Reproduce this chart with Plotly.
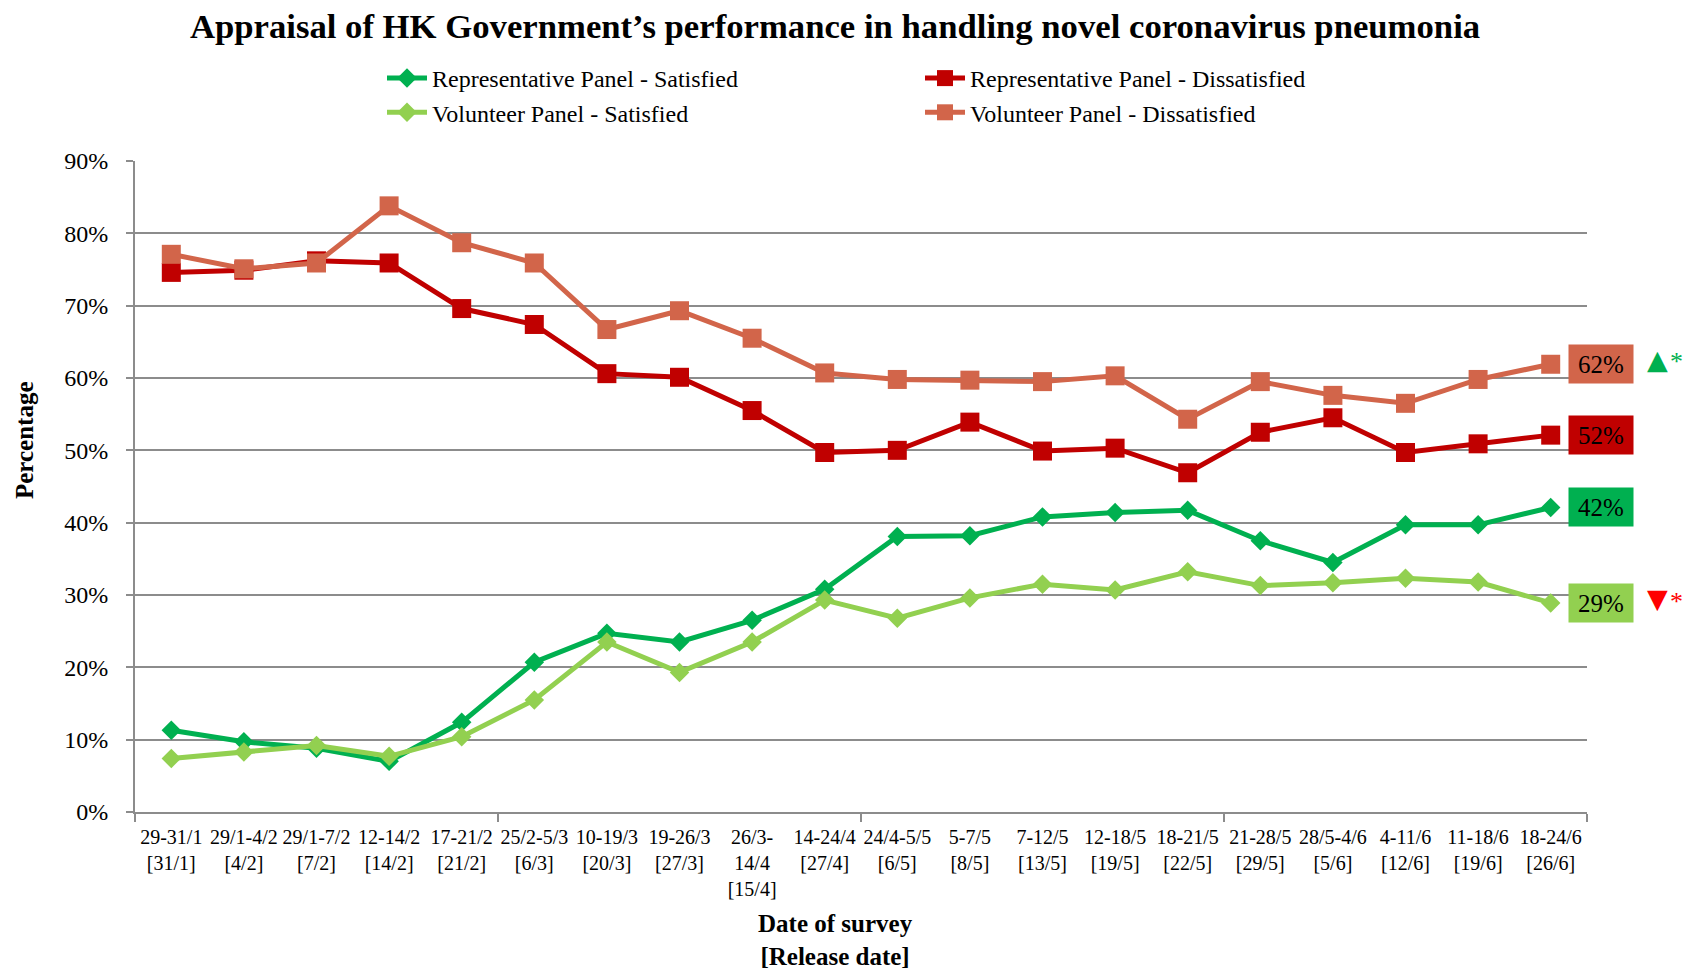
import plotly.graph_objects as go

categories = ["29-31/1<br>[31/1]", "29/1-4/2<br>[4/2]", "29/1-7/2<br>[7/2]", "12-14/2<br>[14/2]",
              "17-21/2<br>[21/2]", "25/2-5/3<br>[6/3]", "10-19/3<br>[20/3]", "19-26/3<br>[27/3]",
              "26/3-<br>14/4<br>[15/4]", "14-24/4<br>[27/4]", "24/4-5/5<br>[6/5]", "5-7/5<br>[8/5]",
              "7-12/5<br>[13/5]", "12-18/5<br>[19/5]", "18-21/5<br>[22/5]", "21-28/5<br>[29/5]",
              "28/5-4/6<br>[5/6]", "4-11/6<br>[12/6]", "11-18/6<br>[19/6]", "18-24/6<br>[26/6]"]

rep_sat = [11.3, 9.7, 8.8, 7.0, 12.4, 20.7, 24.7, 23.5, 26.5, 30.8,
           38.1, 38.2, 40.8, 41.4, 41.7, 37.5, 34.5, 39.7, 39.7, 42.1]
vol_sat = [7.4, 8.3, 9.2, 7.7, 10.4, 15.5, 23.5, 19.3, 23.5, 29.3,
           26.8, 29.6, 31.5, 30.7, 33.2, 31.3, 31.7, 32.3, 31.8, 28.9]
rep_dis = [74.6, 74.9, 76.2, 75.9, 69.6, 67.4, 60.6, 60.1, 55.5, 49.7,
           50.0, 53.9, 49.9, 50.3, 46.9, 52.5, 54.5, 49.7, 50.9, 52.1]
vol_dis = [77.1, 75.1, 75.9, 83.8, 78.7, 75.9, 66.7, 69.3, 65.5, 60.7,
           59.8, 59.7, 59.5, 60.3, 54.3, 59.5, 57.6, 56.5, 59.8, 61.9]

series_names = ["Representative Panel - Satisfied", "Representative Panel - Dissatisfied",
                "Volunteer Panel - Satisfied", "Volunteer Panel - Dissatisfied"]
end_labels = ["42%", "52%", "29%", "62%"]

C_RS = "#00B050"
C_RD = "#C00000"
C_VS = "#92D050"
C_VD = "#D2654A"
C_UP = "#00B050"
C_DOWN = "#FF0000"
GRID = "#8C8C8C"
FONT = "Liberation Serif"

W, H = 1686, 968
ML, MR, MT, MB = 135, 99, 161, 156
PW, PH = W - ML - MR, H - MT - MB

def px_x(px):
    return (px - ML) / PW

def px_y(py):
    return (H - MB - py) / PH

x = list(range(len(categories)))
fig = go.Figure()

def add(name, vals, color, symbol, size):
    fig.add_trace(go.Scatter(x=x, y=[v / 100 for v in vals], name=name, mode="lines+markers",
                             line=dict(color=color, width=5),
                             marker=dict(symbol=symbol, size=size, color=color)))

add(series_names[0], rep_sat, C_RS, "diamond", 15)
add(series_names[1], rep_dis, C_RD, "square", 19)
add(series_names[2], vol_sat, C_VS, "diamond", 15)
add(series_names[3], vol_dis, C_VD, "square", 19)

last = len(categories) - 1
for vals, color, txt in [(rep_sat, C_RS, end_labels[0]), (rep_dis, C_RD, end_labels[1]),
                         (vol_sat, C_VS, end_labels[2]), (vol_dis, C_VD, end_labels[3])]:
    fig.add_annotation(x=last, y=vals[last] / 100, xref="x", yref="y", text=txt,
                       showarrow=False, xshift=50, bgcolor=color, borderpad=1,
                       width=62, height=36, align="center", valign="middle",
                       font=dict(family=FONT, size=25, color="black"))

# significance markers (triangle + asterisk)
for vals, sym, color, tshift, sshift in [(vol_dis, "▲", C_UP, 5, 3), (vol_sat, "▼", C_DOWN, 4, 1)]:
    fig.add_annotation(x=last, y=vals[last] / 100, xref="x", yref="y", text=sym,
                       showarrow=False, xshift=107, yshift=tshift,
                       xanchor="center", yanchor="middle",
                       font=dict(family="DejaVu Sans", size=27, color=color))
    fig.add_annotation(x=last, y=vals[last] / 100, xref="x", yref="y", text="*",
                       showarrow=False, xshift=126, yshift=sshift,
                       xanchor="center", yanchor="middle",
                       font=dict(family=FONT, size=26, color=color))

fig.add_annotation(text="<b>Date of survey<br>[Release date]</b>", xref="paper", yref="paper",
                   x=px_x(835), y=px_y(940), xanchor="center", yanchor="middle", showarrow=False,
                   font=dict(family=FONT, size=25, color="black"))
fig.add_annotation(text="<b>Percentage</b>", xref="paper", yref="paper",
                   x=px_x(24), y=px_y(440), xanchor="center", yanchor="middle",
                   textangle=-90, showarrow=False,
                   font=dict(family=FONT, size=25, color="black"))

fig.update_layout(
    width=W, height=H,
    paper_bgcolor="white", plot_bgcolor="white",
    margin=dict(l=ML, r=MR, t=MT, b=MB),
    title=dict(text="<b>Appraisal of HK Government’s performance in handling novel coronavirus pneumonia</b>",
               x=835 / W, xanchor="center", y=(H - 26) / H, yanchor="middle",
               font=dict(family=FONT, size=34.7, color="black")),
    legend=dict(orientation="h", xref="container", yref="container",
                x=382 / W, xanchor="left", y=(H - 56) / H, yanchor="top",
                entrywidth=483, font=dict(family=FONT, size=24, color="black"),
                itemwidth=40, traceorder="normal", bgcolor="rgba(0,0,0,0)"),
    font=dict(family=FONT, color="black"),
    showlegend=True,
)

fig.update_xaxes(range=[-0.5, last + 0.5], tickmode="array", tickvals=x, ticktext=categories,
                 ticks="", showgrid=False, zeroline=False,
                 showline=True, linecolor=GRID, linewidth=2, ticklabelstandoff=6,
                 tickfont=dict(family=FONT, size=20, color="black"),
                 minor=dict(tickmode="array", tickvals=[-0.5, 4.5, 9.5, 14.5, 19.5],
                            ticks="outside", ticklen=8, tickcolor=GRID, tickwidth=2, showgrid=False))
fig.update_yaxes(range=[0, 0.9], tickmode="array", tickvals=[i / 10 for i in range(10)],
                 tickformat=".0%", showgrid=True, gridcolor=GRID, gridwidth=2,
                 zeroline=False, showline=True, linecolor=GRID, linewidth=2,
                 ticks="outside", ticklen=7, tickcolor=GRID, tickwidth=2, ticklabelstandoff=13,
                 tickfont=dict(family=FONT, size=24, color="black"))

fig.write_html("out.html", config={"displayModeBar": False},
               post_script="document.body.style.margin='0px';")
